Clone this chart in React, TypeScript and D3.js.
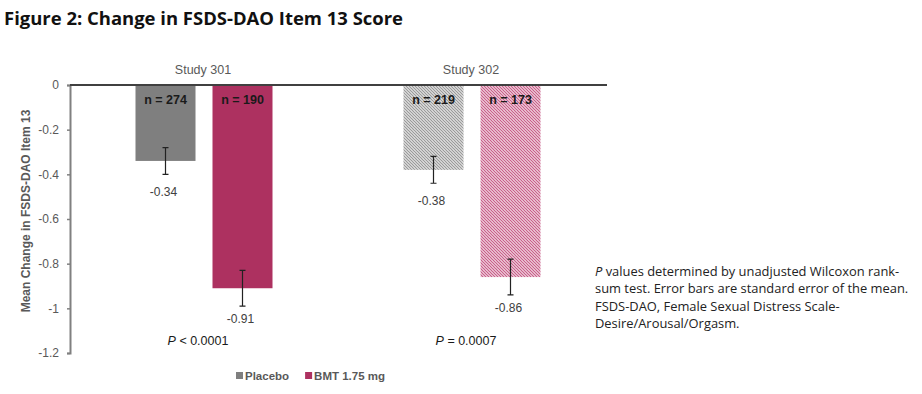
import * as d3 from "d3";
import { useEffect, useRef } from "react";

const studies = ["Study 301", "Study 302"];
const arms = ["Placebo", "BMT 1.75 mg"];
const meanChange = [
  [-0.34, -0.91],
  [-0.38, -0.86],
];
const stdErr = [
  [0.06, 0.08],
  [0.06, 0.08],
];
const nCounts = [
  [274, 190],
  [219, 173],
];
const pValues = ["< 0.0001", "= 0.0007"];
const yTicks = [0, -0.2, -0.4, -0.6, -0.8, -1, -1.2];
const footnote = [
  " values determined by unadjusted Wilcoxon rank-",
  "sum test. Error bars are standard error of the mean.",
  "FSDS-DAO, Female Sexual Distress Scale-",
  "Desire/Arousal/Orgasm.",
];

const W = 922;
const H = 394;
const armColors = ["#7f7f7f", "#ad3160"];
const hatchColors = ["#9a9a9a", "#c9608a"];
const font = "'Liberation Sans', Arial, sans-serif";

function App() {
  const ref = useRef<SVGSVGElement>(null);

  useEffect(() => {
    const svg = d3.select(ref.current!);
    svg.selectAll("*").remove();

    const defs = svg.append("defs");
    hatchColors.forEach((c, i) => {
      const p = defs.append("pattern")
        .attr("id", "hatch" + i)
        .attr("patternUnits", "userSpaceOnUse")
        .attr("width", 3)
        .attr("height", 3);
      p.append("rect").attr("width", 3).attr("height", 3).attr("fill", "#fff");
      p.append("path")
        .attr("d", "M-1,-1 L4,4 M-1,2 L1,4 M2,-1 L4,1")
        .attr("stroke", c)
        .attr("stroke-width", 1.3);
    });

    const y = d3.scaleLinear().domain([0, -1.2]).range([85, 353]);
    const x = d3.scaleBand().domain(studies).range([70, 606]);
    const bw = x.bandwidth();
    const xi = d3.scaleBand().domain(arms)
      .range([bw / 2 - 68.5, bw / 2 + 68.5])
      .paddingInner(17 / 77);

    // title
    svg.append("text")
      .attr("x", 4).attr("y", 25)
      .attr("font-family", "'Open Sans', Lato, sans-serif")
      .attr("font-weight", "bold")
      .attr("font-size", 17)
      .attr("textLength", 399)
      .attr("lengthAdjust", "spacingAndGlyphs")
      .attr("fill", "#111")
      .text("Figure 2: Change in FSDS-DAO Item 13 Score");

    // bars
    studies.forEach((s, si) => {
      const g = svg.append("g").attr("transform", `translate(${x(s)},0)`);
      arms.forEach((a, ai) => {
        const v = meanChange[si][ai];
        const bx = xi(a)!;
        const cx = bx + xi.bandwidth() / 2;
        g.append("rect")
          .attr("x", bx).attr("y", y(0))
          .attr("width", xi.bandwidth())
          .attr("height", y(v) - y(0))
          .attr("fill", si === 0 ? armColors[ai] : `url(#hatch${ai})`);
        const e = stdErr[si][ai];
        g.append("path")
          .attr("d", `M${cx},${y(v + e)}V${y(v - e)}M${cx - 3},${y(v + e)}H${cx + 3}M${cx - 3},${y(v - e)}H${cx + 3}`)
          .attr("stroke", "#222").attr("stroke-width", 1.2).attr("fill", "none");
        g.append("text")
          .attr("x", cx).attr("y", y(0) + 19)
          .attr("text-anchor", "middle")
          .attr("font-family", font).attr("font-weight", "bold").attr("font-size", 12.5)
          .attr("fill", "#1a1a1a")
          .text(`n = ${nCounts[si][ai]}`);
        g.append("text")
          .attr("x", cx - 2).attr("y", y(v) + 35)
          .attr("text-anchor", "middle")
          .attr("font-family", font).attr("font-size", 12)
          .attr("fill", "#404040")
          .text(String(v));
      });
      svg.append("text")
        .attr("x", x(s)! + bw / 2 - 1).attr("y", 74)
        .attr("text-anchor", "middle")
        .attr("font-family", font).attr("font-size", 12.5)
        .attr("fill", "#595959")
        .text(s);
      const pt = svg.append("text")
        .attr("x", x(s)! + bw / 2 - 6).attr("y", 345)
        .attr("text-anchor", "middle")
        .attr("font-family", font).attr("font-size", 12.5)
        .attr("fill", "#1a1a1a");
      pt.append("tspan").attr("font-style", "italic").text("P");
      pt.append("tspan").text(" " + pValues[si]);
    });

    // y axis
    const ya = svg.append("g")
      .attr("transform", "translate(70,0)")
      .call(d3.axisLeft(y).tickValues(yTicks).tickSize(3).tickPadding(8)
        .tickFormat(d => String(+d)));
    ya.select(".domain").attr("stroke", "#808080").attr("stroke-width", 2);
    ya.selectAll(".tick line").attr("stroke", "#808080").attr("stroke-width", 1.5);
    ya.selectAll(".tick text")
      .attr("font-family", font).attr("font-size", 12).attr("fill", "#595959");

    // zero line
    svg.append("line")
      .attr("x1", 70).attr("x2", 607)
      .attr("y1", y(0)).attr("y2", y(0))
      .attr("stroke", "#404040").attr("stroke-width", 2);

    svg.append("text")
      .attr("transform", `translate(30,${(y(0) + y(-1.2)) / 2 - 8}) rotate(-90)`)
      .attr("text-anchor", "middle")
      .attr("font-family", font).attr("font-weight", "bold").attr("font-size", 12)
      .attr("fill", "#595959")
      .text("Mean Change in FSDS-DAO Item 13");

    // legend
    const lg = svg.append("g").attr("transform", "translate(236,380)");
    let lx = 0;
    arms.forEach((a, i) => {
      lg.append("rect").attr("x", lx).attr("y", -8).attr("width", 7).attr("height", 7)
        .attr("fill", armColors[i]);
      const t = lg.append("text").attr("x", lx + 9).attr("y", 0)
        .attr("font-family", font).attr("font-weight", "bold").attr("font-size", 11.5)
        .attr("fill", "#595959").text(a);
      lx += (t.node() as SVGTextElement).getComputedTextLength() + 25;
    });

    // footnote
    const fn = svg.append("text")
      .attr("font-family", "'Open Sans', Lato, sans-serif")
      .attr("font-size", 12.9).attr("fill", "#222");
    footnote.forEach((line, i) => {
      const ts = fn.append("tspan").attr("x", 595).attr("y", 276 + i * 17.3);
      if (i === 0) {
        ts.append("tspan").attr("font-style", "italic").text("P");
      }
      ts.append("tspan").text(line);
    });
  }, []);

  return (
    <svg ref={ref} width={W} height={H}
      style={{ position: "absolute", left: 0, top: 0, background: "#fff" }} />
  );
}

export default App;
